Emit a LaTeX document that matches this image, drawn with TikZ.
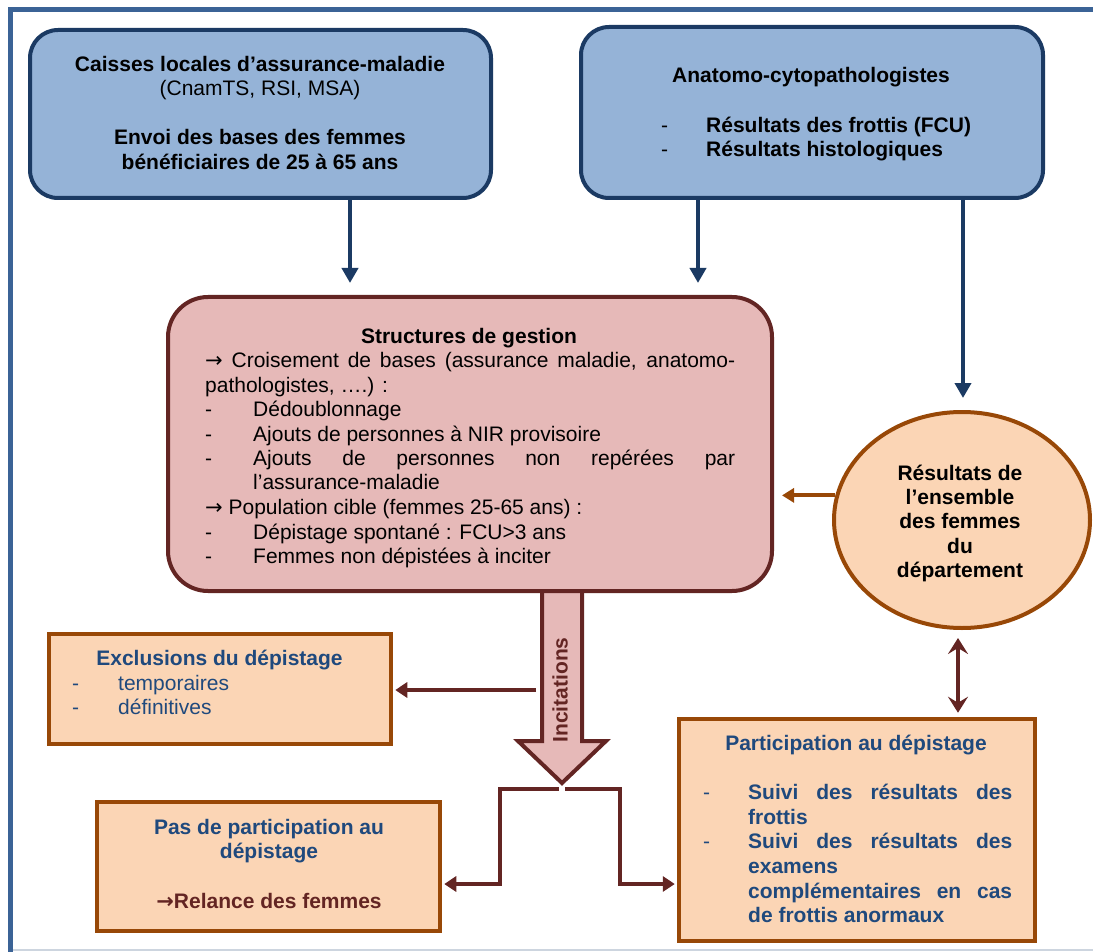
\documentclass[tikz,border=0pt]{standalone}
\usepackage{fontspec}
\setmainfont{Liberation Sans}
\newfontfamily\dejavu{DejaVu Sans}
\usetikzlibrary{arrows.meta,shapes.geometric}
\definecolor{navy}{HTML}{1B3A63}
\definecolor{bluefill}{HTML}{95B3D7}
\definecolor{frameblue}{HTML}{3B6396}
\definecolor{pinkfill}{HTML}{E6B9B8}
\definecolor{darkred}{HTML}{632523}
\definecolor{peach}{HTML}{FBD5B5}
\definecolor{brownc}{HTML}{984807}
\definecolor{textblue}{HTML}{1F497D}
\definecolor{framegray}{HTML}{CDD5DF}
\newcommand\fsz{\fontsize{21}{24.5}\selectfont}
\newcommand\rarr{{\dejavu →}}
\begin{document}
\begin{tikzpicture}[x=1pt,y=-1pt,
  bold/.style={font=\fsz\bfseries, inner sep=0pt},
  reg/.style={font=\fsz, inner sep=0pt},
  ctr/.style={anchor=base},
  lft/.style={anchor=base west},
  bluebox/.style={draw=navy, fill=bluefill, line width=4pt, rounded corners=28pt, inner sep=0pt},
  pinkbox/.style={draw=darkred, fill=pinkfill, line width=4pt, rounded corners=40pt, inner sep=0pt},
  peachbox/.style={draw=brownc, fill=peach, line width=4.5pt, inner sep=0pt},
  navyarrow/.style={draw=navy, line width=4.5pt, -{Triangle[length=15pt,width=16pt]}},
  brownarrow/.style={draw=brownc, line width=4pt, -{Triangle[length=12pt,width=14pt]}},
  redarrow/.style={draw=darkred, line width=4.5pt, -{Triangle[length=12pt,width=15pt]}},
  dblarrow/.style={draw=darkred, line width=4.5pt, {Stealth[length=16pt,width=20pt,inset=6pt]}-{Stealth[length=16pt,width=20pt,inset=6pt]}},
  bigarrow/.style={draw=darkred, fill=pinkfill, line width=4pt}
]
\useasboundingbox (0,0) rectangle (1093,952);
% frame
\draw[framegray, line width=2pt] (12,950) -- (1093,950);
\draw[frameblue, line width=4.5pt] (10.5,952) -- (10.5,9.5) -- (1093,9.5);

% big arrow (Incitations)
\draw[bigarrow] (542,591) -- (542,741) -- (518,741) -- (562,783) -- (606,741) -- (582,741) -- (582,591);
\node[bold, text=darkred, rotate=90, anchor=center] (incit) at (560,690) {Incitations};
\coordinate (xs) at (536,690);
\coordinate (sl) at (559,789);
\coordinate (sr) at (565,789);

% boxes
\node[bluebox, minimum width=461pt, minimum height=168pt] (b1) at (260.5,114) {};
\node[bluebox, minimum width=462pt, minimum height=171pt] (b2) at (812,112.5) {};
\node[pinkbox, minimum width=604pt, minimum height=294pt] (gest) at (470,444) {};
\node[ellipse, draw=brownc, fill=peach, line width=4pt, inner sep=0pt, minimum width=256pt, minimum height=216pt] (ell) at (962,520) {};
\node[peachbox, minimum width=342pt, minimum height=110pt] (excl) at (220,689) {};
\node[peachbox, minimum width=343pt, minimum height=129pt] (pas) at (268.5,866.5) {};
\node[peachbox, minimum width=356pt, minimum height=222pt] (part) at (857,830) {};

% box 1 text
\node[bold, ctr] (t1a) at (260,72) {Caisses locales d’assurance-maladie};
\node[reg, ctr] (t1b) at (260,96) {(CnamTS, RSI, MSA)};
\node[bold, ctr] (t1c) at (260,145) {Envoi des bases des femmes};
\node[bold, ctr] (t1d) at (260,170) {bénéficiaires de 25 à 65 ans};

% box 2 text
\node[bold, ctr] (t2a) at (811,83) {Anatomo-cytopathologistes};
\node[reg, lft] (t2d1) at (661,133) {-};
\node[bold, lft] (t2b) at (706,133) {Résultats des frottis (FCU)};
\node[reg, lft] (t2d2) at (661,157) {-};
\node[bold, lft] (t2c) at (706,157) {Résultats histologiques};

% gestion text
\node[bold, ctr] (g0) at (469,343) {Structures de gestion};
\node[reg, lft] (g1) at (205,367) {\makebox[530pt][s]{\rarr{} Croisement de bases (assurance maladie, anatomo-}};
\node[reg, lft] (g2) at (205,392) {pathologistes, ….) :};
\node[reg, lft] (g3d) at (205,416) {-};
\node[reg, lft] (g3) at (253,416) {Dédoublonnage};
\node[reg, lft] (g4d) at (205,441) {-};
\node[reg, lft] (g4) at (253,441) {Ajouts de personnes à NIR provisoire};
\node[reg, lft] (g5d) at (205,465) {-};
\node[reg, lft] (g5) at (253,465) {\makebox[482pt][s]{Ajouts de personnes non repérées par}};
\node[reg, lft] (g6) at (253,489) {l’assurance-maladie};
\node[reg, lft] (g7) at (205,514) {\rarr{} Population cible (femmes 25-65 ans) :};
\node[reg, lft] (g8d) at (205,539) {-};
\node[reg, lft] (g8) at (253,539) {Dépistage spontané : FCU>3 ans};
\node[reg, lft] (g9d) at (205,563) {-};
\node[reg, lft] (g9) at (253,563) {Femmes non dépistées à inciter};

% ellipse text
\node[bold, ctr] (e1) at (960,480) {Résultats de};
\node[bold, ctr] (e2) at (960,504) {l’ensemble};
\node[bold, ctr] (e3) at (960,528) {des femmes};
\node[bold, ctr] (e4) at (960,553) {du};
\node[bold, ctr] (e5) at (960,577) {département};

% exclusions text
\node[bold, ctr, text=textblue] (x0) at (219.5,665) {Exclusions du dépistage};
\node[reg, lft, text=textblue] (x1d) at (72,690) {-};
\node[reg, lft, text=textblue] (x1) at (118,690) {temporaires};
\node[reg, lft, text=textblue] (x2d) at (72,714) {-};
\node[reg, lft, text=textblue] (x2) at (118,714) {définitives};

% pas de participation text
\node[bold, ctr, text=textblue] (p1) at (269,834) {Pas de participation au};
\node[bold, ctr, text=textblue] (p2) at (269,858) {dépistage};
\node[bold, ctr, text=darkred] (p3) at (269,908) {{\dejavu\bfseries →}Relance des femmes};

% participation text
\node[bold, ctr, text=textblue] (q0) at (856,750) {Participation au dépistage};
\node[reg, lft, text=textblue] (q1d) at (703,799) {-};
\node[bold, lft, text=textblue] (q1) at (748,799) {\makebox[264pt][s]{Suivi des résultats des}};
\node[bold, lft, text=textblue] (q2) at (748,824) {frottis};
\node[reg, lft, text=textblue] (q3d) at (703,848) {-};
\node[bold, lft, text=textblue] (q3) at (748,848) {\makebox[264pt][s]{Suivi des résultats des}};
\node[bold, lft, text=textblue] (q4) at (748,873) {examens};
\node[bold, lft, text=textblue] (q5) at (748,898) {\makebox[264pt][s]{complémentaires en cas}};
\node[bold, lft, text=textblue] (q6) at (748,922) {de frottis anormaux};

% connectors
\coordinate (ax1) at (350,0);
\coordinate (ax2) at (698,0);
\coordinate (ax3) at (963,0);
\coordinate (ax4) at (958,0);
\draw[navyarrow] (b1.south -| ax1) -- ([yshift=12pt]gest.north -| ax1);
\draw[navyarrow] (b2.south -| ax2) -- ([yshift=12pt]gest.north -| ax2);
\draw[navyarrow] (b2.south -| ax3) -- ([yshift=12pt]ell.north -| ax3);
\draw[brownarrow] (ell.169) -- ([xshift=8pt]gest.east |- ell.169);
\draw[dblarrow] ([yshift=-8pt]ell.south -| ax4) -- ([yshift=4pt]part.north -| ax4);
\draw[redarrow] (xs) -- ([xshift=2pt]excl.east |- xs);
\draw[redarrow] (sl) -- (500,789) -- (500,884) -- ([xshift=2pt]pas.east |- 0,884);
\draw[redarrow] (sr) -- (620,789) -- (620,884) -- ([xshift=-2pt]part.west |- 0,884);
\end{tikzpicture}
\end{document}
